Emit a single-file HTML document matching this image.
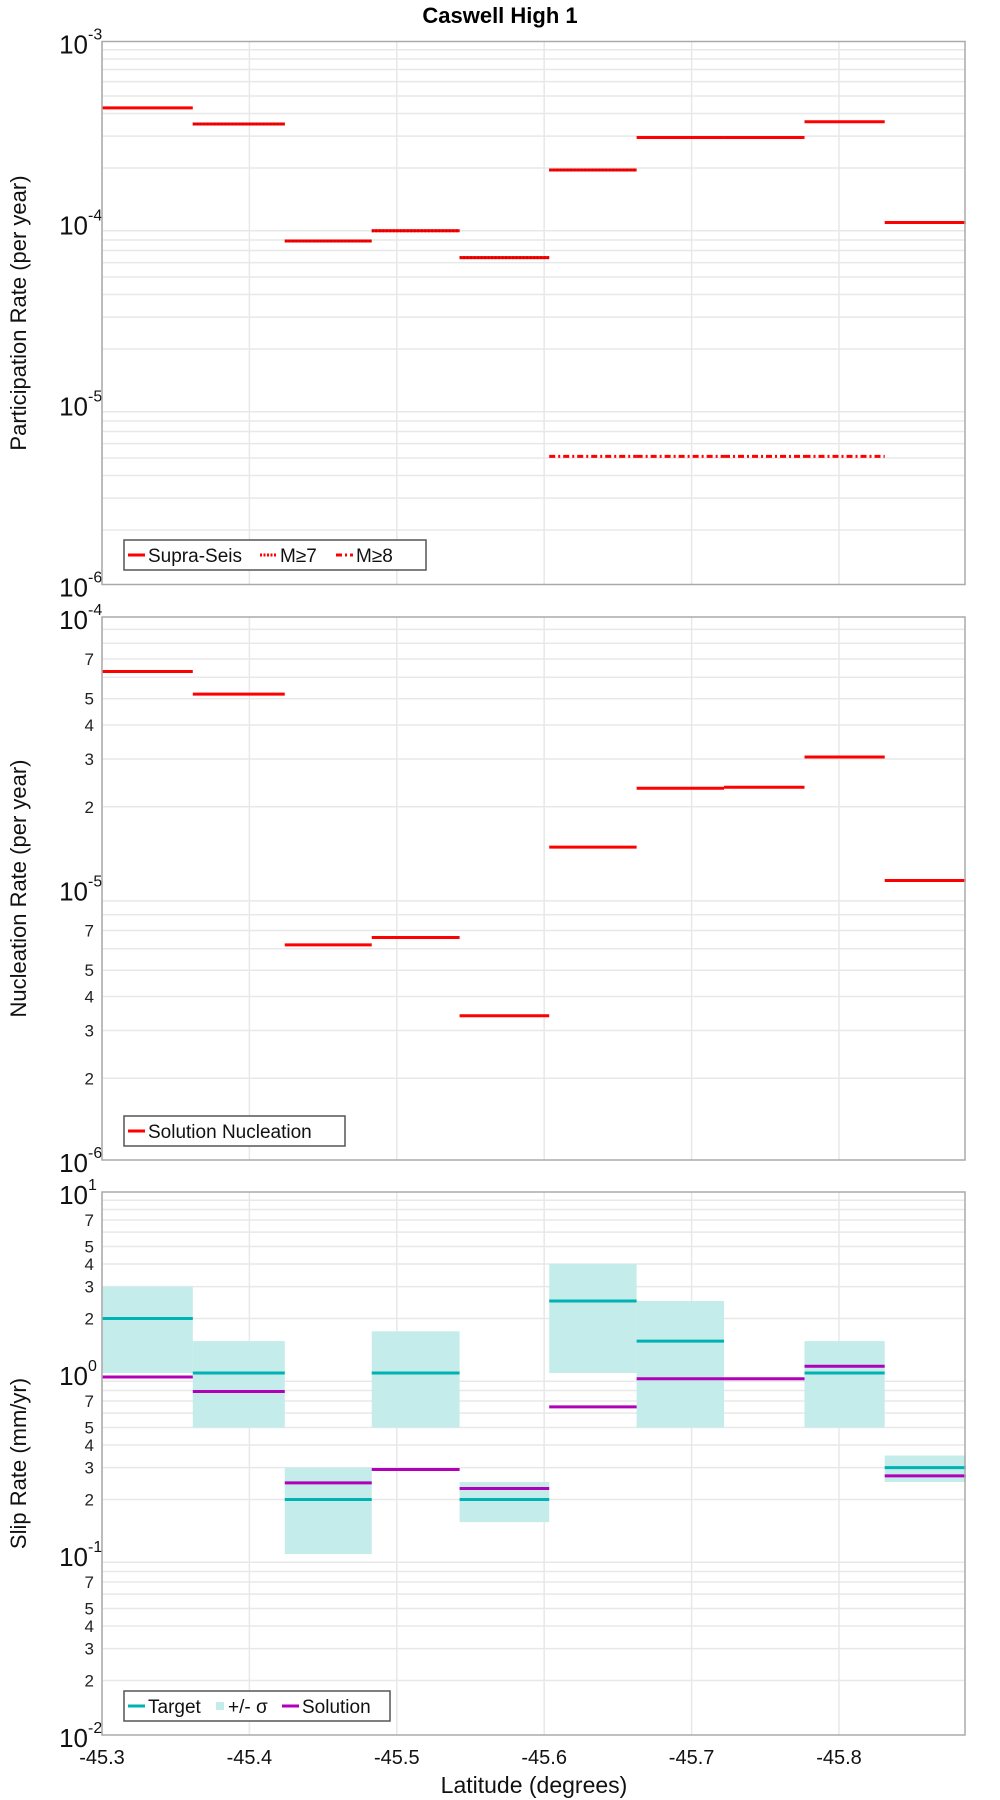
<!DOCTYPE html>
<html><head><meta charset="utf-8"><style>
html,body{margin:0;padding:0;background:#fff;}
svg{display:block;font-family:"Liberation Sans","DejaVu Sans",sans-serif;}
</style></head><body>
<svg id="chart" width="1000" height="1800" viewBox="0 0 1000 1800" xmlns="http://www.w3.org/2000/svg">
<text x="500" y="23" text-anchor="middle" font-size="22" font-weight="bold">Caswell High 1</text>
<g id="root"></g>
</svg>
<script>
const segEdges = [-45.3, -45.3616, -45.424, -45.483, -45.5426, -45.6034, -45.6627, -45.722, -45.7766, -45.831, -45.886];
const xTicks = [-45.3, -45.4, -45.5, -45.6, -45.7, -45.8];
const supraSeis = [4.3e-4, 3.5e-4, 7.9e-5, 9.0e-5, 6.4e-5, 1.95e-4, 2.95e-4, 2.95e-4, 3.6e-4, 1.0e-4];
const m7 = [null, 3.5e-4, 7.9e-5, 9.0e-5, 6.4e-5, 1.95e-4, null, null, null, null];
const m8 = [null, null, null, null, null, 5.1e-6, 5.1e-6, 5.1e-6, 5.1e-6, null];
const nucleation = [6.3e-5, 5.2e-5, 6.2e-6, 6.6e-6, 3.4e-6, 1.42e-5, 2.34e-5, 2.36e-5, 3.05e-5, 1.07e-5];
const target = [2.0, 1.0, 0.2, 1.0, 0.2, 2.5, 1.5, null, 1.0, 0.3];
const sigmaHi = [3.0, 1.5, 0.3, 1.7, 0.25, 4.0, 2.5, null, 1.5, 0.35];
const sigmaLo = [1.0, 0.5, 0.1, 0.5, 0.15, 1.0, 0.5, null, 0.5, 0.25];
const solution = [0.95, 0.79, 0.247, 0.293, 0.23, 0.65, 0.93, 0.93, 1.09, 0.27];

const NS = "http://www.w3.org/2000/svg";
const root = document.getElementById('root');
const L = 102, R = 965;
function xs(lat){ return L + (-45.3 - lat) / 0.1 * 147.4; }
function mk(tag, attrs, parent){
  const e = document.createElementNS(NS, tag);
  for (const k in attrs) e.setAttribute(k, attrs[k]);
  (parent || root).appendChild(e);
  return e;
}
function makeY(top, bot, lo, hi){
  return v => bot - (Math.log10(v) - lo) / (hi - lo) * (bot - top);
}
function panel(name, top, bot, lo, hi, minorLabels, title){
  const ys = makeY(top, bot, lo, hi);
  const g = mk('g', {});
  
  
  for (let d = lo; d < hi; d++){
    for (let m = 2; m <= 9; m++){
      const y = ys(m * Math.pow(10, d));
      const ln = mk('line', {x1:L, x2:R, y1:y, y2:y, stroke:'#e8e8e8', 'stroke-width':1.5}, g);
      
      
      if (minorLabels && [2,3,4,5,7].includes(m)){
        const t = mk('text', {x:94, y:y+6, 'text-anchor':'end', 'font-size':17, fill:'#222'}, g);
        t.textContent = m;
        
        
      }
    }
  }
  for (const xv of xTicks){
    const ln = mk('line', {x1:xs(xv), x2:xs(xv), y1:top, y2:bot, stroke:'#e8e8e8', 'stroke-width':1.5}, g);
    
    
  }
  for (let d = lo; d <= hi; d++){
    const y = ys(Math.pow(10, d));
    const t = mk('text', {x:88, y:y+12, 'text-anchor':'end', 'font-size':26, fill:'#111'}, g);
    t.textContent = '10';
    
    
    const s = mk('text', {x:88, y:y-2, 'text-anchor':'start', 'font-size':16, fill:'#111'}, g);
    s.textContent = String(d);
    
    
  }
  const cy = (top + bot) / 2;
  const at = mk('text', {x:0, y:0, transform:`translate(26,${cy}) rotate(-90)`, 'text-anchor':'middle', 'font-size':22, fill:'#111'}, g);
  at.textContent = title;
  
  
  return {g, ys};
}
function frame(top, bot){
  const r = mk('rect', {x:L, y:top, width:R-L, height:bot-top, fill:'none', stroke:'#aaa', 'stroke-width':1.5});
  
  
}
function seg(g, ys, vals, color, extra, name){
  for (let i = 0; i < vals.length; i++){
    if (vals[i] == null) continue;
    const a = Object.assign({x1:xs(segEdges[i]), x2:xs(segEdges[i+1]), y1:ys(vals[i]), y2:ys(vals[i]), stroke:color, 'stroke-width':3}, extra || {});
    const ln = mk('line', a, g);
    
    
  }
}
function legend(x, y, w, items){
  const g = mk('g', {});
  
  
  const r = mk('rect', {x:x, y:y, width:w, height:30, fill:'#fff', stroke:'#555', 'stroke-width':1.5}, g);
  
  
  let cx = x + 4;
  for (const it of items){
    if (it.box){
      const b = mk('rect', {x:cx+2, y:y+11, width:8, height:8, fill:it.color}, g);
      
      
      cx += 14;
    } else {
      const ln = mk('line', {x1:cx, x2:cx+17, y1:y+15, y2:y+15, stroke:it.color, 'stroke-width':3, 'stroke-dasharray':it.dash || 'none'}, g);
      
      
      cx += 20;
    }
    const t = mk('text', {x:cx, y:y+22, 'font-size':19, fill:'#111'}, g);
    t.textContent = it.label;
    
    
    cx += it.w;
  }
}

// Panel 1
const p1 = panel('participation', 41.5, 584.5, -6, -3, false, 'Participation Rate (per year)');
seg(p1.g, p1.ys, supraSeis, '#ff0000', {}, 'supra-seis-bar');
seg(p1.g, p1.ys, m7, '#ff0000', {'stroke-dasharray':'2 1.5', stroke:'#e00000'}, 'm7-bar');
seg(p1.g, p1.ys, m8, '#ff0000', {'stroke-dasharray':'6 3 2 3'}, 'm8-bar');
frame(41.5, 584.5);
legend(124, 540, 302, [{color:'#f00', label:'Supra-Seis', w:112},{color:'#f00', dash:'2 1.5', label:'M≥7', w:56},{color:'#f00', dash:'6 3 2 3', label:'M≥8', w:50}]);

// Panel 2
const p2 = panel('nucleation', 617, 1160, -6, -4, true, 'Nucleation Rate (per year)');
seg(p2.g, p2.ys, nucleation, '#ff0000', {}, 'nucleation-bar');
frame(617, 1160);
legend(124, 1116, 221, [{color:'#f00', label:'Solution Nucleation', w:190}]);

// Panel 3
const p3 = panel('slip-rate', 1192, 1735, -2, 1, true, 'Slip Rate (mm/yr)');
for (let i = 0; i < sigmaHi.length; i++){
  if (sigmaHi[i] == null) continue;
  const y1 = p3.ys(sigmaHi[i]), y2 = p3.ys(sigmaLo[i]);
  const r = mk('rect', {x:xs(segEdges[i]), y:y1, width:xs(segEdges[i+1])-xs(segEdges[i]), height:y2-y1, fill:'#c3ecea'}, p3.g);
  
  
}
seg(p3.g, p3.ys, target, '#00b2b2', {}, 'target-bar');
seg(p3.g, p3.ys, solution, '#b000b8', {}, 'solution-bar');
frame(1192, 1735);
legend(124, 1691, 266, [{color:'#00b2b2', label:'Target', w:66},{color:'#c3ecea', box:true, label:'+/- σ', w:54},{color:'#b000b8', label:'Solution', w:80}]);

// X axis
for (const xv of xTicks){
  const t = mk('text', {x:xs(xv), y:1764, 'text-anchor':'middle', 'font-size':20, fill:'#111'});
  t.textContent = xv.toFixed(1);
  
  
}
const xt = mk('text', {x:534, y:1793, 'text-anchor':'middle', 'font-size':23, fill:'#111'});
xt.textContent = 'Latitude (degrees)';


</script>
</body></html>
